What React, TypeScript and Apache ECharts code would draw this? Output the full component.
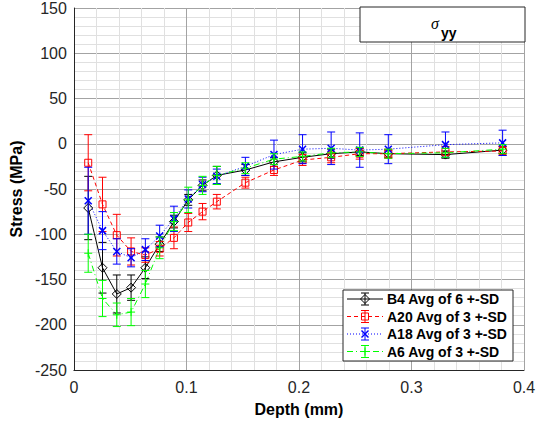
import React, { useEffect, useRef } from "react";
import * as echarts from "echarts";

// ---- data ----
const depth = [0.0127, 0.0254, 0.0381, 0.0508, 0.0635, 0.0762, 0.0889, 0.1016, 0.1143, 0.127, 0.1524, 0.1778, 0.2032, 0.2286, 0.254, 0.2794, 0.3302, 0.381];

const b4Mean = [-71, -137, -166, -159, -137, -111, -86, -62, -46, -35, -29, -20, -15, -11, -9, -11, -12, -7];
const b4Sd = [35, 28, 21, 14, 12, 8, 7, 6, 6, 10, 6, 5, 5, 5, 4, 4, 4, 4];
const a20Mean = [-21, -67, -101, -119, -123, -116, -104, -87, -75, -64, -43, -29, -18, -15, -11, -11, -9, -8];
const a20Sd = [31, 30, 23, 15, 8, 8, 12, 10, 9, 8, 6, 6, 6, 6, 6, 5, 6, 5];
const a18Mean = [-63, -96, -119, -126, -117, -102, -83, -61, -45, -36, -25, -12, -6, -5, -7, -6, -1, 1];
const a18Sd = [37, 21, 14, 10, 12, 12, 14, 10, 8, 8, 10, 16, 16, 18, 19, 16, 14, 14];
const a6Mean = [-121, -171, -189, -186, -155, -115, -86, -62, -46, -35, -27, -17, -14, -10, -9, -11, -10, -6];
const a6Sd = [21, 20, 13, 15, 15, 12, 10, 14, 10, 10, 6, 6, 5, 5, 5, 5, 5, 5];

const seriesNames = ["B4 Avg of 6 +-SD", "A20 Avg of 3 +-SD", "A18 Avg of 3 +-SD", "A6 Avg of 3 +-SD"];
const xTicks = [0, 0.1, 0.2, 0.3, 0.4];
const titleMain = "σ";
const titleSub = "yy";

const FONT = "'Liberation Sans', Arial, Helvetica, sans-serif";

type Kind = "diamond" | "square" | "cross" | "plus";

const defs: { name: string; mean: number[]; sd: number[]; color: string; dash: number[] | null; kind: Kind }[] = [
  { name: seriesNames[0], mean: b4Mean, sd: b4Sd, color: "#000000", dash: null, kind: "diamond" },
  { name: seriesNames[1], mean: a20Mean, sd: a20Sd, color: "#ff0000", dash: [4, 3], kind: "square" },
  { name: seriesNames[2], mean: a18Mean, sd: a18Sd, color: "#0000ff", dash: [1, 2], kind: "cross" },
  { name: seriesNames[3], mean: a6Mean, sd: a6Sd, color: "#00ff00", dash: [6, 3, 1, 3], kind: "plus" },
];

function markerEls(kind: Kind, cx: number, cy: number, color: string): any[] {
  const style = { stroke: color, fill: "none", lineWidth: 1 };
  if (kind === "diamond") {
    return [{ type: "polygon", shape: { points: [[cx, cy - 4.5], [cx + 4.5, cy], [cx, cy + 4.5], [cx - 4.5, cy]] }, style }];
  }
  if (kind === "square") {
    return [{ type: "rect", shape: { x: cx - 3.5, y: cy - 3.5, width: 7, height: 7 }, style }];
  }
  if (kind === "cross") {
    return [
      { type: "line", shape: { x1: cx - 3.5, y1: cy - 3.5, x2: cx + 3.5, y2: cy + 3.5 }, style: { ...style, lineWidth: 1.5 } },
      { type: "line", shape: { x1: cx - 3.5, y1: cy + 3.5, x2: cx + 3.5, y2: cy - 3.5 }, style: { ...style, lineWidth: 1.5 } },
    ];
  }
  return [
    { type: "line", shape: { x1: cx - 4, y1: cy, x2: cx + 4, y2: cy }, style },
    { type: "line", shape: { x1: cx, y1: cy - 4, x2: cx, y2: cy + 4 }, style },
  ];
}

export default function App() {
  const ref = useRef<HTMLDivElement>(null);
  useEffect(() => {
    document.body.style.margin = "0";
    const chart = echarts.init(ref.current!, null, { renderer: "svg" });

    const series: any[] = [];
    defs.forEach((d) => {
      series.push({
        type: "line",
        name: d.name,
        data: depth.map((x, i) => [x, d.mean[i]]),
        symbol: "none",
        lineStyle: { color: d.color, width: 1, type: d.dash ? d.dash : "solid" },
        z: 3,
      });
      series.push({
        type: "custom",
        name: d.name + " err",
        data: depth.map((x, i) => [x, d.mean[i], d.sd[i]]),
        encode: { x: 0, y: 1 },
        z: 4,
        renderItem: (params: any, api: any) => {
          const x = api.value(0);
          const y = api.value(1);
          const sd = api.value(2);
          const c = api.coord([x, y]);
          const t = api.coord([x, y + sd]);
          const b = api.coord([x, y - sd]);
          const st = { stroke: d.color, lineWidth: 1, fill: "none" };
          const cw = 4;
          return {
            type: "group",
            children: [
              { type: "line", shape: { x1: c[0], y1: t[1], x2: c[0], y2: b[1] }, style: st },
              { type: "line", shape: { x1: c[0] - cw, y1: t[1], x2: c[0] + cw, y2: t[1] }, style: st },
              { type: "line", shape: { x1: c[0] - cw, y1: b[1], x2: c[0] + cw, y2: b[1] }, style: st },
              ...markerEls(d.kind, c[0], c[1], d.color),
            ],
          };
        },
      });
    });

    // legend graphics
    const legendEls: any[] = [
      { type: "rect", shape: { x: 343, y: 290, width: 170, height: 71 }, style: { fill: "#ffffff", stroke: "#262626", lineWidth: 1 }, z: 10 },
    ];
    defs.forEach((d, i) => {
      const y = 299 + i * 17.5;
      const st: any = { stroke: d.color, lineWidth: 1, fill: "none" };
      legendEls.push({ type: "line", shape: { x1: 347, y1: y, x2: 383, y2: y }, style: { ...st, lineDash: d.dash || null }, z: 11 });
      legendEls.push({ type: "line", shape: { x1: 365, y1: y - 6, x2: 365, y2: y + 6 }, style: st, z: 11 });
      legendEls.push({ type: "line", shape: { x1: 361, y1: y - 6, x2: 369, y2: y - 6 }, style: st, z: 11 });
      legendEls.push({ type: "line", shape: { x1: 361, y1: y + 6, x2: 369, y2: y + 6 }, style: st, z: 11 });
      markerEls(d.kind, 365, y, d.color).forEach((m) => legendEls.push({ ...m, z: 11 }));
      legendEls.push({
        type: "text",
        x: 387,
        y: y,
        z: 11,
        style: { text: d.name, fontSize: 14, fontWeight: "bold", fontFamily: FONT, fill: "#000000", verticalAlign: "middle", textVerticalAlign: "middle", align: "left" },
      });
    });

    const titleEls: any[] = [
      { type: "rect", shape: { x: 360, y: 7, width: 165, height: 35 }, style: { fill: "#ffffff", stroke: "#262626", lineWidth: 1 }, z: 10 },
      { type: "text", x: 435, y: 23, z: 11, style: { text: titleMain, fontSize: 16, fontStyle: "italic", fontFamily: "'Liberation Serif', 'DejaVu Serif', serif", fill: "#000", align: "center", verticalAlign: "middle", textAlign: "center", textVerticalAlign: "middle" } },
      { type: "text", x: 441, y: 33, z: 11, style: { text: titleSub, fontSize: 14, fontWeight: "bold", fontFamily: FONT, fill: "#000", align: "left", verticalAlign: "middle", textVerticalAlign: "middle" } },
    ];

    chart.setOption({
      animation: false,
      grid: { left: 72, right: 19, top: 8, bottom: 57, containLabel: false },
      xAxis: {
        type: "value",
        min: xTicks[0],
        max: xTicks[xTicks.length - 1],
        interval: 0.1,
        name: "Depth (mm)",
        nameLocation: "middle",
        nameGap: 31,
        nameTextStyle: { fontSize: 16, fontWeight: "bold", fontFamily: FONT, color: "#000" },
        axisLine: { show: true, onZero: false, lineStyle: { color: "#262626", width: 1 } },
        axisTick: { show: false },
        axisLabel: {
          fontSize: 16,
          fontFamily: FONT,
          color: "#262626",
          margin: 9,
          formatter: (v: number) => (Math.abs(v) < 1e-9 ? "0" : v.toFixed(1)),
        },
        splitLine: { show: true, lineStyle: { color: "#a3a3a3", width: 1 } },
        minorTick: { show: false, splitNumber: 5 },
        minorSplitLine: { show: true, lineStyle: { color: "#e0e0e0", width: 1 } },
      },
      yAxis: {
        type: "value",
        min: -250,
        max: 150,
        interval: 50,
        name: "Stress (MPa)",
        nameLocation: "middle",
        nameGap: 46,
        nameTextStyle: { fontSize: 16, fontWeight: "bold", fontFamily: FONT, color: "#000" },
        axisLine: { show: true, onZero: false, lineStyle: { color: "#262626", width: 1 } },
        axisTick: { show: false },
        axisLabel: { fontSize: 16, fontFamily: FONT, color: "#262626", margin: 7 },
        splitLine: { show: true, lineStyle: { color: "#a3a3a3", width: 1 } },
        minorTick: { show: false, splitNumber: 5 },
        minorSplitLine: { show: true, lineStyle: { color: "#e0e0e0", width: 1 } },
      },
      series,
      graphic: [...titleEls, ...legendEls],
    });
    return () => chart.dispose();
  }, []);
  return <div ref={ref} style={{ position: "fixed", left: 0, top: 0, width: 543, height: 427, background: "#fff" }} />;
}
